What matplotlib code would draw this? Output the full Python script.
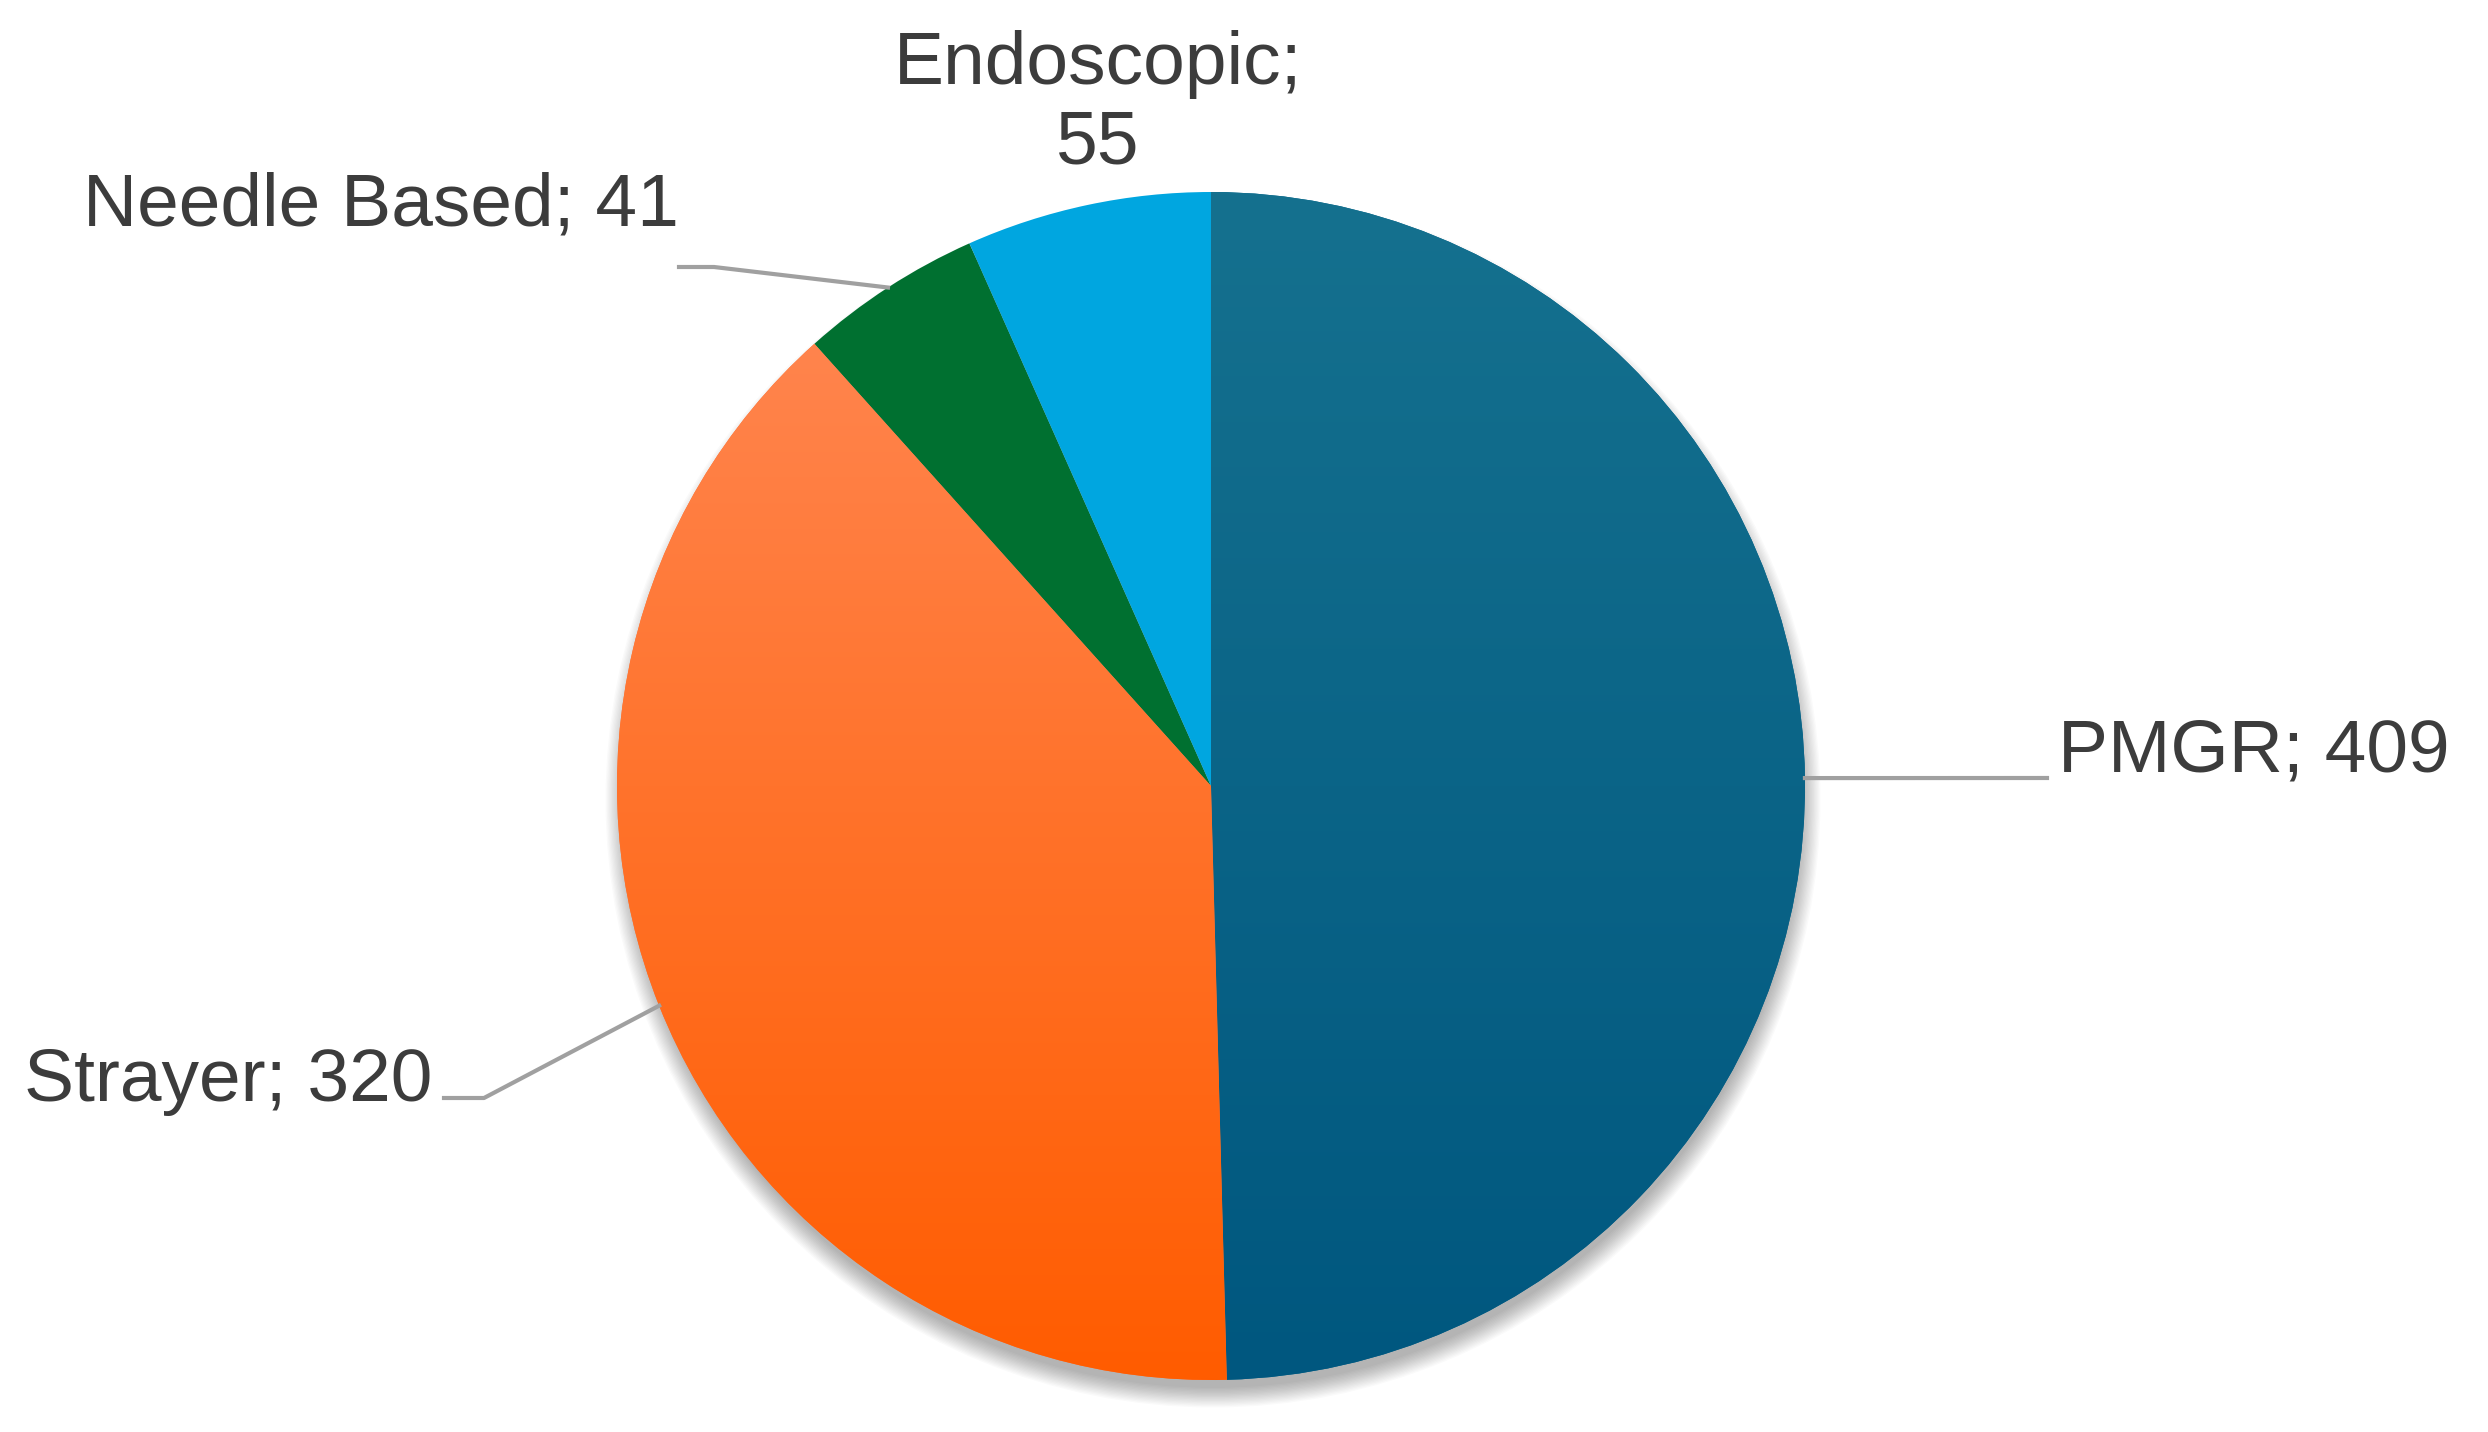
import matplotlib.pyplot as plt
import numpy as np
from matplotlib.colors import to_rgb
from matplotlib.patches import Circle

# data
labels = ['PMGR', 'Strayer', 'Needle Based', 'Endoscopic']
values = [409, 320, 41, 55]
colors = ['#00628a', '#ff7030', '#007030', '#00a6e0']

plt.rcParams['font.family'] = ['Liberation Sans', 'DejaVu Sans']

W, H = 2488, 1432
fig = plt.figure(figsize=(24.88, 14.32), dpi=100)
ax = fig.add_axes([0, 0, 1, 1])

cx, cy, r = 1211, H - 786, 594

# soft drop shadow under the pie, mostly below
for i in range(16):
    ax.add_patch(Circle((cx + 2, cy - 14), r - 6 + i * 1.3, color='k',
                        alpha=0.02, lw=0, zorder=0))

wedges, _ = ax.pie(values, colors=colors, startangle=90, counterclock=False,
                   center=(cx, cy), radius=r, wedgeprops=dict(linewidth=0))


def gradient(wedge, top, bottom):
    c1, c2 = np.array(to_rgb(top)), np.array(to_rgb(bottom))
    t = np.linspace(0, 1, 256)[:, None]
    img = (c1 * (1 - t) + c2 * t)[:, None, :]
    im = ax.imshow(img, extent=(cx - r, cx + r, cy - r, cy + r), origin='upper',
                   aspect='auto', interpolation='bilinear',
                   zorder=wedge.get_zorder() + 0.1)
    im.set_clip_path(wedge)


gradient(wedges[0], '#15718f', '#00577f')
gradient(wedges[1], '#ff8a58', '#ff5c00')

ax.set_xlim(0, W)
ax.set_ylim(0, H)
ax.axis('off')

# anchor points on the rim at each wedge's middle angle
total = sum(values)
cum = np.cumsum([0] + values[:-1])
mids = [np.deg2rad(90 - (c + v / 2) / total * 360) for c, v in zip(cum, values)]
anchors = [(cx + r * np.cos(a), cy + r * np.sin(a)) for a in mids]

lc = '#a0a0a0'
tc = '#3c3c3c'
fs = 54
lw = 3

# PMGR
ax.plot([anchors[0][0], 2047], [anchors[0][1], H - 778], color=lc, lw=lw, zorder=5)
ax.text(2058, H - 752, f'{labels[0]}; {values[0]}', ha='left', va='center',
        fontsize=fs, color=tc)

# Strayer
ax.plot([anchors[1][0], 484, 444], [anchors[1][1], H - 1098, H - 1098],
        color=lc, lw=lw, zorder=5)
ax.text(432, H - 1082, f'{labels[1]}; {values[1]}', ha='right', va='center',
        fontsize=fs, color=tc)

# Needle Based
ax.plot([anchors[2][0], 714, 679], [anchors[2][1], H - 267, H - 267],
        color=lc, lw=lw, zorder=5)
ax.text(83, H - 206, f'{labels[2]}; {values[2]}', ha='left', va='center',
        fontsize=fs, color=tc)

# Endoscopic
ax.text(1098, H - 104, f'{labels[3]};\n{values[3]}', ha='center', va='center',
        multialignment='center', linespacing=1.2, fontsize=fs, color=tc)

fig.savefig('out.png', dpi=100, facecolor='white')
